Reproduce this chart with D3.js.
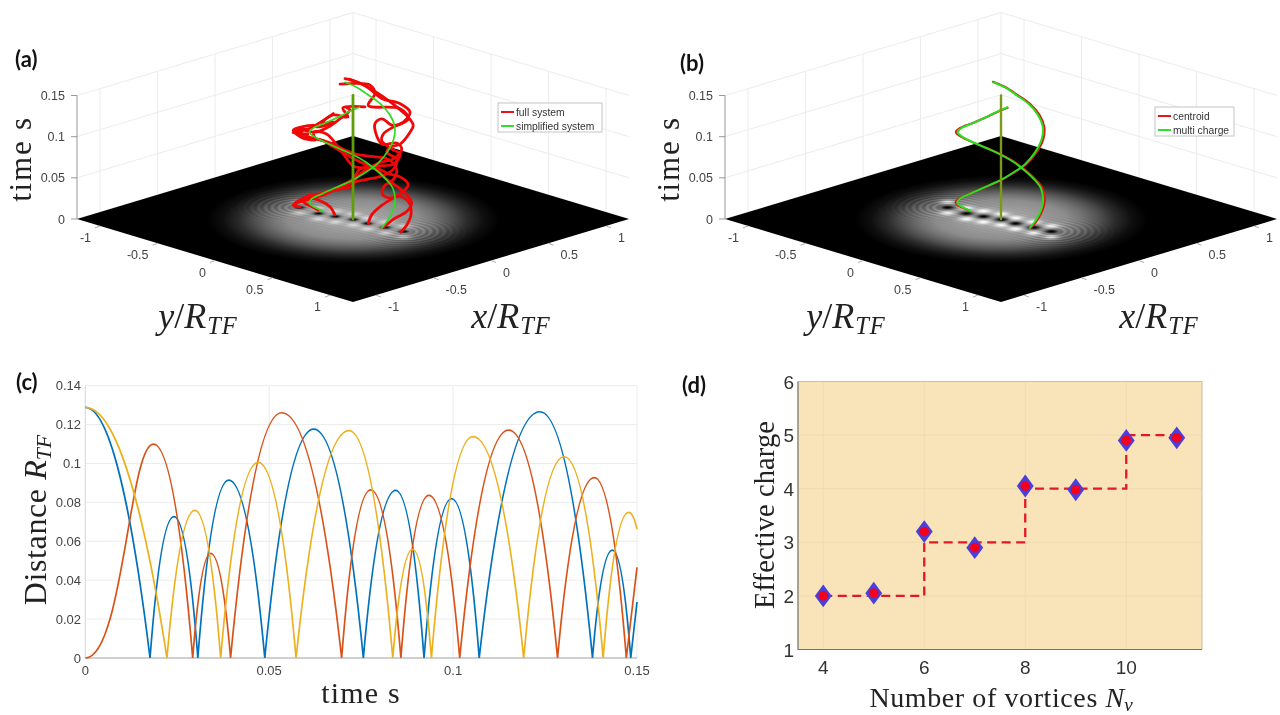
<!DOCTYPE html>
<html><head><meta charset="utf-8">
<script src="https://cdn.jsdelivr.net/npm/d3@7"></script>
<style>
html,body{margin:0;padding:0;background:#fff;overflow:hidden}
svg{display:block;filter:blur(0.45px)}
</style></head><body>
<svg id="c" width="1280" height="715"></svg>
<script>
// ---------- panel (a)/(b) : trajectories as [x/R, y/R, t] ----------
const multiChargeA=[[.001,.251,0],[.062,.242,.0064],[.144,.204,.0136],[.183,.183,.0234],[.213,.133,.0343],[.246,.036,.0402],[.245,-.05,.0477],[.222,-.115,.0554],[.173,-.182,.0637],[.103,-.227,.0721],[.01,-.25,.082],[-.099,-.229,.0937],[-.189,-.189,.1054],[-.216,-.126,.1145],[-.25,.01,.1276],[-.227,.103,.1379],[-.194,.157,.1449],[-.143,.198,.15]];
const multiChargeB=[[-.012,-.252,0],[-.099,-.229,.0084],[-.19,-.19,.0193],[-.204,-.154,.0267],[-.25,-.02,.0402],[-.237,.083,.0513],[-.182,.173,.0617],[-.115,.222,.0706],[-.038,.247,.0786],[.053,.243,.0889],[.162,.192,.0984],[.197,.167,.1103],[.232,.092,.1199],[.249,-.012,.1292],[.232,-.095,.1365],[.194,-.159,.1449],[.158,-.226,.15]];
const centroidA=[[.002,.26,0],[.066,.25,.0064],[.15,.212,.0136],[.192,.19,.0234],[.222,.138,.0343],[.255,.036,.0402],[.254,-.053,.0477],[.23,-.12,.0554],[.178,-.188,.0637],[.107,-.235,.0721],[.01,-.26,.082],[-.103,-.238,.0937],[-.197,-.196,.1054],[-.224,-.131,.1145],[-.26,.01,.1276],[-.236,.107,.1379],[-.2,.163,.1449],[-.148,.206,.15]];
const centroidB=[[-.013,-.262,0],[-.103,-.238,.0084],[-.197,-.197,.0193],[-.211,-.16,.0267],[-.26,-.02,.0402],[-.246,.086,.0513],[-.188,.179,.0617],[-.12,.23,.0706],[-.04,.257,.0786],[.055,.252,.0889],[.168,.2,.0984],[.204,.173,.1103],[.241,.096,.1199],[.259,-.012,.1292],[.241,-.099,.1365],[.201,-.165,.1449],[.164,-.234,.15]];
const centralVortex=[[0,0,0],[0,0,.15]];
const strandA1=[[.004,.129,0],[.031,.131,.0092],[.093,.143,.0172],[.2,.15,.0234],[.269,.169,.0293],[.33,.15,.0342],[.33,.08,.0407],[.303,.003,.0426],[.292,-.057,.0454],[.249,-.101,.0494],[.186,-.154,.0572],[.098,-.182,.0689],[.007,-.193,.0804],[-.064,-.194,.0895],[-.137,-.237,.095],[-.252,-.252,.1066],[-.212,-.162,.1124],[-.236,-.036,.1269],[-.346,.175,.15]];
const strandA2=[[.015,.4,0],[.084,.384,.0054],[.177,.327,.0113],[.22,.27,.0214],[.23,.18,.0253],[.136,.186,.0276],[.129,.129,.0295],[.185,.085,.0354],[.25,.1,.0416],[.34,.04,.0475],[.303,.003,.0598],[.263,-.087,.061],[.191,-.159,.0638],[.138,-.193,.0688],[.04,-.21,.0804],[-.083,-.233,.0908],[-.184,-.234,.0951],[-.26,-.26,.1079],[-.222,-.122,.1178],[-.202,-.102,.116],[-.153,-.003,.1242],[-.185,-.085,.1209],[-.187,.013,.1347],[-.147,.103,.1344],[-.169,.081,.1454],[-.113,.217,.15]];
const strandA3=[[.012,.252,0],[.108,.258,.0073],[.209,.259,.0111],[.255,.255,.0193],[.284,.184,.0252],[.29,.09,.0312],[.279,-.001,.0381],[.268,-.062,.0462],[.22,-.13,.0475],[.177,-.174,.0494],[.069,-.182,.0742],[-.065,-.165,.099],[-.148,-.198,.1033],[-.165,-.165,.096],[-.239,-.239,.1021],[-.196,-.196,.1033],[-.261,-.261,.1045],[-.209,-.209,.1081],[-.23,-.23,.1095],[-.215,-.115,.1097],[-.183,-.033,.118],[-.182,.069,.1324],[-.163,.137,.1448],[-.205,.15,.15]];
const strandB1=[[-.02,-.137,0],[-.05,-.15,.0108],[-.111,-.161,.0192],[-.187,-.187,.0255],[-.27,-.19,.0247],[-.36,-.16,.0257],[-.316,-.116,.034],[-.269,-.019,.0414],[-.221,.079,.0493],[-.181,.17,.0588],[-.106,.225,.062],[-.025,.275,.0648],[.05,.3,.0709],[.09,.29,.0811],[.072,.222,.0872],[.111,.211,.0913],[.18,.23,.0931],[.248,.248,.1054],[.287,.237,.1114],[.3,.18,.1187],[.29,.09,.1277],[.267,-.003,.137],[.234,-.086,.1451],[.238,-.206,.148],[.21,-.28,.15]];
const strandB2=[[-.057,-.404,0],[-.261,-.261,.017],[-.152,-.152,.0267],[-.248,-.248,.0207],[-.135,-.135,.0292],[-.209,-.209,.0243],[-.1,-.1,.0328],[-.186,.015,.0433],[-.131,.12,.0504],[-.134,.166,.0629],[-.106,.225,.0743],[-.033,.268,.0813],[.05,.3,.0832],[.137,.287,.0913],[.165,.215,.0943],[.1,.15,.0932],[.12,.07,.1135],[.175,.075,.1175],[.075,.275,.122],[.216,.266,.1239],[.255,.155,.1298],[.142,-.009,.1317],[.196,-.005,.144],[.224,-.076,.1499],[.204,-.143,.15],[.107,-.22,.15]];
const strandB3=[[-.021,-.281,0],[-.08,-.28,.0066],[-.166,-.266,.017],[-.187,-.187,.0295],[-.211,-.061,.0347],[-.207,.094,.0525],[-.177,.174,.0629],[-.14,.2,.0748],[-.047,.253,.0771],[.05,.3,.0771],[.105,.305,.0872],[.094,.244,.0913],[.1,.15,.0972],[.132,.132,.1033],[.175,.175,.1116],[.219,.219,.1177],[.298,.198,.1257],[.28,.13,.1338],[.225,.025,.1379],[.21,-.09,.148],[.222,-.249,.15]];
const vortexX=[-.061,-.066,-.035,0,.003,.024,.044];
const vortexY=[-.408,-.239,-.122,0,.119,.255,.391];
const profileR=[0,.2,.4,.5,.6,.7,.8,.9];
const profileGray=[.62,.62,.55,.45,.32,.17,.06,0];
const floorTicks=[-1,-.5,0,.5,1];
const floorTickLabels=["-1","-0.5","0","0.5","1"];
const timeTicks=[0,.05,.1,.15];
const timeTickLabels=["0","0.05","0.1","0.15"];

// ---------- panel (c) : zeros and peaks of each distance curve ----------
const blueT=[0,.0176,.0241,.0306,.0390,.0488,.0621,.0756,.0844,.0921,.0996,.1071,.1236,.1379,.1433,.1483,.15];
const blueD=[.1289,0,.0727,0,.0915,0,.1177,0,.0862,0,.0819,0,.1266,0,.0555,0,.0288];
const redT=[0,.0185,.0292,.0341,.0395,.0534,.0697,.0776,.0858,.0934,.1018,.1151,.1284,.1384,.1471,.15];
const redD=[0,.1100,0,.0538,0,.1261,0,.0864,0,.0836,0,.1172,0,.0927,0,.0466];
const yellowT=[0,.0222,.0298,.0368,.0470,.0573,.0717,.0836,.0890,.0941,.1054,.1192,.1302,.1408,.1477,.15];
const yellowD=[.1289,0,.0759,0,.1006,0,.1169,0,.0559,0,.1138,0,.1035,0,.0749,.0663];
const cXTicks=[0,.05,.1,.15], cXLabels=["0","0.05","0.1","0.15"];
const cYTicks=[0,.02,.04,.06,.08,.1,.12,.14], cYLabels=["0","0.02","0.04","0.06","0.08","0.1","0.12","0.14"];

// ---------- panel (d) ----------
const vortexCount=[4,5,6,7,8,9,10,11];
const effectiveCharge=[2,2.05,3.2,2.9,4.05,3.98,4.9,4.95];
const stepN=[4,6,6,8,8,10,10,11];
const stepCharge=[2,2,3,3,4,4,5,5];
const dXTicks=[4,6,8,10], dYTicks=[1,2,3,4,5,6];

const svg=d3.select("#c");
const SANS="'Liberation Sans',Arial,sans-serif", SERIF="'Liberation Serif',serif", BOLD="Lato,'Open Sans',sans-serif";
svg.append("rect").attr("width",1280).attr("height",715).attr("fill","#fff");

function mathLabel(g,x,y,size,parts,anchor,rot){
  const t=g.append("text").attr("font-family",SERIF).attr("font-size",size).attr("fill","#222").attr("text-anchor",anchor||"middle");
  t.attr("transform",`translate(${x},${y})`+(rot?` rotate(${rot})`:""));
  parts.forEach(p=>{const s=t.append("tspan").text(p.t);
    if(p.i)s.attr("font-style","italic");
    if(p.ls)s.attr("letter-spacing",p.ls);
    if(p.sub)s.attr("font-size",size*.68).attr("dy",size*.16);
  });
  return t;
}
function panelTag(txt,x,y){svg.append("text").attr("x",x).attr("y",y).attr("font-family",BOLD).attr("font-weight",700).attr("font-size",22).attr("fill","#111").text(txt);}

function floorImage(vSigma,lobeAmp){
  const W=556,H=170,cv=document.createElement("canvas");cv.width=W;cv.height=H;
  const ctx=cv.getContext("2d"),im=ctx.createImageData(W,H);
  const prof=d3.scaleLinear().domain(profileR).range(profileGray).clamp(true);
  const x0=vortexX[0],y0=vortexY[0],x1=vortexX[6],y1=vortexY[6],L2=(x1-x0)**2+(y1-y0)**2;
  for(let j=0;j<H;j++)for(let i=0;i<W;i++){
    const s=(i-W/2)/115,d=(j-H/2)/34.6,x=(s-d)/2,y=(s+d)/2,r=Math.hypot(x,y);
    if(r>.95)continue;
    let g=prof(r);
    const u=Math.max(0,Math.min(1,((x-x0)*(x1-x0)+(y-y0)*(y1-y0))/L2));
    const rho=Math.hypot(x-x0-u*(x1-x0),y-y0-u*(y1-y0));
    const endWeight=.3+.7*Math.abs(2*u-1)**4;
    g+=.06*endWeight*Math.exp(-(((rho-.12)/.17)**2))*Math.cos(2*Math.PI*rho/.042)*(g>.05?1:0);
    vortexX.forEach((vx,k)=>{const vy=vortexY[k];
      [1,-1].forEach(sg=>{const a=(x-vx-sg*.08)**2+(y-vy+sg*.08)**2;g+=lobeAmp*Math.exp(-a/.0022);});
    });
    vortexX.forEach((vx,k)=>{const a=(x-vx)**2+(y-vortexY[k])**2;g*=1-Math.exp(-a/(vSigma*vSigma));});
    const v=Math.max(0,Math.min(1,g))*255,p=(j*W+i)*4;
    im.data[p]=im.data[p+1]=im.data[p+2]=v;im.data[p+3]=255;
  }
  ctx.putImageData(im,0,0);
  return {url:cv.toDataURL(),W,H};
}

function panel3D(cx,cy,opts){
  const g=svg.append("g");
  const sx=d3.scaleLinear([-1.2,1.2],[-138,138]), sy=d3.scaleLinear([-1.2,1.2],[-138,138]);
  const fx=d3.scaleLinear([-1.2,1.2],[41.5,-41.5]), fy=d3.scaleLinear([-1.2,1.2],[-41.5,41.5]);
  const st=d3.scaleLinear([0,.15],[0,-123.5]);
  const P=(x,y,t)=>[cx+sx(x)+sy(y),cy+fx(x)+fy(y)+st(t)];
  const line=d3.line().curve(d3.curveCatmullRom.alpha(.5));
  const path=a=>line(a.map(p=>P(p[0],p[1],p[2])));
  const seg=(a,b,col,w)=>g.append("line").attr("x1",a[0]).attr("y1",a[1]).attr("x2",b[0]).attr("y2",b[1]).attr("stroke",col).attr("stroke-width",w||1);
  const M=1.2,G="#ececec";
  timeTicks.forEach(t=>{seg(P(-M,-M,t),P(M,-M,t),G);seg(P(M,-M,t),P(M,M,t),G);});
  floorTicks.forEach(v=>{seg(P(v,-M,0),P(v,-M,.15),G);seg(P(M,v,0),P(M,v,.15),G);});
  seg(P(M,-M,0),P(M,-M,.15),G);
  seg(P(-M,-M,0),P(-M,-M,.15),"#a8a8a8",1.2);
  timeTicks.forEach((t,i)=>{const p=P(-M,-M,t);seg(p,[p[0]-6,p[1]],"#999");
    g.append("text").attr("x",p[0]-12).attr("y",p[1]+4.5).attr("text-anchor","end").attr("font-family",SANS).attr("font-size",12.5).attr("fill","#444").text(timeTickLabels[i]);});
  g.append("polygon").attr("points",[P(-M,-M,0),P(-M,M,0),P(M,M,0),P(M,-M,0)].map(p=>p.join(",")).join(" ")).attr("fill","#000");
  const im=floorImage(opts.vSigma,opts.lobe);
  g.append("image").attr("href",im.url).attr("x",cx-im.W/2).attr("y",cy-im.H/2).attr("width",im.W).attr("height",im.H).style("filter","blur(0.7px)");
  floorTicks.forEach((v,i)=>{
    let p=P(-M,v,0);seg(p,[p[0]-5,p[1]+2],"#aaa");
    g.append("text").attr("x",p[0]-9).attr("y",p[1]+16).attr("text-anchor","end").attr("font-family",SANS).attr("font-size",12.5).attr("fill","#444").text(floorTickLabels[i]);
    p=P(v,M,0);seg(p,[p[0]+5,p[1]+2],"#aaa");
    g.append("text").attr("x",p[0]+12).attr("y",p[1]+16).attr("text-anchor","start").attr("font-family",SANS).attr("font-size",12.5).attr("fill","#444").text(floorTickLabels[i]);
  });
  const curve=(a,col,w)=>g.append("path").attr("d",path(a)).attr("fill","none").attr("stroke",col).attr("stroke-width",w).attr("stroke-linecap","round").attr("stroke-linejoin","round");
  opts.draw(curve);
  mathLabel(g,cx-322,cy-60,31,[{t:"time s",ls:1.8}],"middle",-90);
  mathLabel(g,cx-155,cy+109,36,[{t:"y",i:1},{t:"/"},{t:"R",i:1,ls:1},{t:"TF",i:1,sub:1,ls:1}]);
  mathLabel(g,cx+158,cy+109,36,[{t:"x",i:1},{t:"/"},{t:"R",i:1,ls:1},{t:"TF",i:1,sub:1,ls:1}]);
  const L=opts.legend;
  g.append("rect").attr("x",L.x).attr("y",L.y).attr("width",L.w).attr("height",29).attr("fill","#fff").attr("stroke","#c4c4c4");
  L.items.forEach((it,i)=>{const yy=L.y+9+i*14;
    seg([L.x+3,yy],[L.x+16,yy],it.c,2);
    g.append("text").attr("x",L.x+18).attr("y",yy+3.8).attr("font-family",SANS).attr("font-size",10.3).attr("fill","#333").text(it.t);});
}

panel3D(353,219,{vSigma:.03,lobe:.22,
  legend:{x:498,y:103,w:104,items:[{c:"#e8141c",t:"full system"},{c:"#2fe02f",t:"simplified system"}]},
  draw(curve){
    [strandA1,strandA2,strandA3,strandB1,strandB2,strandB3].forEach(s=>curve(s,"#f00808",2.8));
    curve(multiChargeA,"#2fdc1e",1.7);curve(multiChargeB,"#2fdc1e",1.7);
    curve(centralVortex,"#5f9e08",2.8);
  }});
panel3D(1001,219,{vSigma:.04,lobe:.36,
  legend:{x:1155,y:107,w:79,items:[{c:"#e8141c",t:"centroid"},{c:"#2fe02f",t:"multi charge"}]},
  draw(curve){
    curve(centroidA,"#d81a10",2.1);curve(centroidB,"#d81a10",2.1);
    curve(multiChargeA,"#28e020",2);curve(multiChargeB,"#28e020",2);
    curve(centralVortex,"#7a9a18",2.4);
  }});
panelTag("(a)",15,67);panelTag("(b)",680,71);panelTag("(c)",16,390);panelTag("(d)",682,393);

// ---------- panel (c) ----------
(function(){
  const g=svg.append("g");
  const x=d3.scaleLinear([0,.15],[85.3,637]), y=d3.scaleLinear([0,.14],[658,385.7]);
  cYTicks.forEach((v,i)=>{g.append("line").attr("x1",85.3).attr("x2",637).attr("y1",y(v)).attr("y2",y(v)).attr("stroke","#ececec");
    g.append("text").attr("x",81).attr("y",y(v)+4.5).attr("text-anchor","end").attr("font-family",SANS).attr("font-size",13).attr("fill","#444").text(cYLabels[i]);});
  cXTicks.forEach((v,i)=>{g.append("line").attr("x1",x(v)).attr("x2",x(v)).attr("y1",385.7).attr("y2",658).attr("stroke","#ececec");
    g.append("text").attr("x",x(v)).attr("y",675).attr("text-anchor","middle").attr("font-family",SANS).attr("font-size",13).attr("fill","#444").text(cXLabels[i]);});
  g.append("line").attr("x1",85.3).attr("x2",637).attr("y1",658).attr("y2",658).attr("stroke","#aaa").attr("stroke-width",1.2);
  g.append("line").attr("x1",85.3).attr("x2",85.3).attr("y1",385.7).attr("y2",658).attr("stroke","#ddd");
  function arcCurve(ctx){let pts=[];return{
    areaStart(){},areaEnd(){},lineStart(){pts=[];},
    point(a,b){pts.push([a,b]);},
    lineEnd(){ctx.moveTo(pts[0][0],pts[0][1]);
      for(let i=1;i<pts.length;i++){const [a0,b0]=pts[i-1],[a1,b1]=pts[i],w=a1-a0;
        if(i===1&&b1<b0&&b0>650){ctx.bezierCurveTo(a0+.55*w,b0,a0+.65*w,b1,a1,b1);}
        else if(i===pts.length-1&&b1<b0){ctx.lineTo(a1,b1);}
        else if(b1<b0){ctx.bezierCurveTo(a0+.25*w,b0+.55*(b1-b0),a0+.58*w,b1,a1,b1);}
        else if(i===1){ctx.bezierCurveTo(a0+.4*w,b0,a0+.74*w,b0+.45*(b1-b0),a1,b1);}
        else{ctx.bezierCurveTo(a0+.42*w,b0,a0+.75*w,b0+.45*(b1-b0),a1,b1);}
      }}};}
  const ln=d3.line().x(d=>x(d[0])).y(d=>y(d[1])).curve(arcCurve);
  [[blueT,blueD,"#0072BD"],[redT,redD,"#D95319"],[yellowT,yellowD,"#EDB120"]].forEach(([T,D,c])=>{
    g.append("path").attr("d",ln(T.map((t,i)=>[t,D[i]]))).attr("fill","none").attr("stroke",c).attr("stroke-width",1.7);});
  mathLabel(g,361,703,30,[{t:"time s",ls:1.2}]);
  mathLabel(g,46,520,32,[{t:"Distance ",ls:.6},{t:"R",i:1},{t:"TF",i:1,sub:1}],"middle",-90);
})();

// ---------- panel (d) ----------
(function(){
  const g=svg.append("g");
  const L=798,R=1202,T=381.5,B=649.5;
  const x=d3.scaleLinear([3.5,11.5],[L,R]), y=d3.scaleLinear([1,6],[B,T]);
  g.append("rect").attr("x",L).attr("y",T).attr("width",R-L).attr("height",B-T).attr("fill","#f9e4ba");
  dYTicks.forEach(v=>{g.append("line").attr("x1",L).attr("x2",R).attr("y1",y(v)).attr("y2",y(v)).attr("stroke","#efdab0");
    g.append("text").attr("x",794).attr("y",y(v)+7).attr("text-anchor","end").attr("font-family",SANS).attr("font-size",19).attr("fill","#333").text(v);});
  dXTicks.forEach(v=>{g.append("line").attr("x1",x(v)).attr("x2",x(v)).attr("y1",T).attr("y2",B).attr("stroke","#efdab0");
    g.append("text").attr("x",x(v)).attr("y",674).attr("text-anchor","middle").attr("font-family",SANS).attr("font-size",19).attr("fill","#333").text(v);});
  g.append("path").attr("d",`M${L},${T}H${R}V${B}H${L}Z`).attr("fill","none").attr("stroke","#cdbf9f");
  g.append("path").attr("d",`M${L},${T}V${B}H${R}`).attr("fill","none").attr("stroke","#777").attr("stroke-width",1.1);
  g.append("path").attr("d",d3.line()(stepN.map((n,i)=>[x(n),y(stepCharge[i])]))).attr("fill","none").attr("stroke","#e0182a").attr("stroke-width",2.3).attr("stroke-dasharray","9 5.5");
  const dia=d3.symbol().type(d3.symbolDiamond).size(150);
  vortexCount.forEach((n,i)=>{
    g.append("path").attr("d",dia()).attr("transform",`translate(${x(n)},${y(effectiveCharge[i])}) scale(1.28,1)`).attr("fill","#4b3fdc");
    g.append("circle").attr("cx",x(n)).attr("cy",y(effectiveCharge[i])).attr("r",4.8).attr("fill","#f4001c");
  });
  mathLabel(g,1001,707,28,[{t:"Number of vortices ",ls:.6},{t:"N",i:1},{t:"v",i:1,sub:1}]);
  mathLabel(g,774,515,28.5,[{t:"Effective charge",ls:.1}],"middle",-90);
})();
</script>
</body></html>
